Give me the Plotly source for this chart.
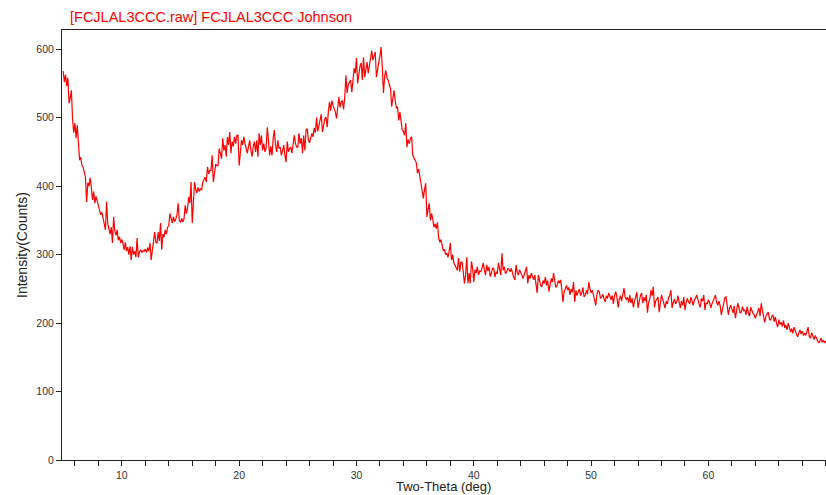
import numpy as np
import plotly.graph_objects as go

# Two-theta start / step of the scan (deg)
theta_start = 5.0
theta_step = 0.1

# Intensity (counts), one row per degree (x.0 .. x.9)
counts_05 = [568, 552, 563, 546, 558, 521, 528, 540, 498, 478]
counts_06 = [492, 470, 489, 452, 438, 442, 430, 428, 420, 413]
counts_07 = [377, 405, 400, 412, 398, 380, 392, 375, 385, 377]
counts_08 = [370, 365, 358, 362, 355, 345, 336, 377, 345, 336]
counts_09 = [330, 340, 317, 355, 335, 328, 336, 321, 326, 317]
counts_10 = [322, 316, 307, 318, 305, 311, 300, 312, 292, 311]
counts_11 = [300, 305, 296, 324, 296, 304, 307, 303, 306, 305]
counts_12 = [308, 303, 310, 305, 317, 292, 305, 312, 333, 318]
counts_13 = [317, 333, 320, 346, 307, 330, 326, 336, 330, 340]
counts_14 = [342, 360, 350, 346, 355, 348, 352, 358, 375, 350]
counts_15 = [347, 353, 348, 352, 372, 360, 368, 384, 375, 406]
counts_16 = [346, 380, 406, 395, 390, 398, 392, 396, 394, 406]
counts_17 = [410, 413, 406, 428, 418, 423, 423, 445, 406, 425]
counts_18 = [432, 430, 430, 455, 445, 440, 470, 452, 460, 443]
counts_19 = [472, 460, 479, 448, 465, 458, 472, 462, 474, 474]
counts_20 = [430, 455, 467, 460, 472, 462, 455, 448, 458, 467]
counts_21 = [452, 443, 458, 465, 450, 467, 443, 477, 460, 474]
counts_22 = [452, 462, 450, 456, 486, 468, 445, 458, 445, 470]
counts_23 = [482, 460, 450, 467, 455, 457, 445, 452, 460, 445]
counts_24 = [435, 465, 450, 455, 457, 448, 460, 474, 462, 457]
counts_25 = [457, 477, 462, 470, 448, 474, 452, 482, 484, 468]
counts_26 = [463, 470, 477, 472, 485, 478, 500, 480, 490, 495]
counts_27 = [505, 479, 492, 498, 501, 486, 508, 523, 510, 525]
counts_28 = [518, 514, 508, 499, 520, 530, 515, 523, 525, 512]
counts_29 = [530, 562, 536, 548, 552, 555, 537, 560, 572, 565]
counts_30 = [587, 550, 568, 575, 580, 555, 588, 559, 570, 581]
counts_31 = [565, 578, 585, 598, 584, 590, 596, 559, 575, 581]
counts_32 = [590, 603, 574, 536, 560, 569, 558, 555, 548, 543]
counts_33 = [516, 530, 540, 525, 514, 516, 496, 508, 495, 482]
counts_34 = [480, 474, 492, 457, 468, 462, 470, 472, 445, 440]
counts_35 = [438, 434, 419, 425, 413, 405, 394, 382, 395, 404]
counts_36 = [355, 368, 375, 350, 360, 352, 340, 345, 338, 347]
counts_37 = [325, 318, 322, 314, 306, 307, 300, 302, 296, 305]
counts_38 = [317, 292, 300, 288, 285, 282, 277, 295, 275, 289]
counts_39 = [289, 275, 258, 270, 296, 258, 273, 258, 290, 280]
counts_40 = [260, 278, 273, 282, 270, 276, 275, 280, 288, 278]
counts_41 = [270, 285, 276, 282, 268, 273, 280, 280, 267, 275]
counts_42 = [272, 288, 280, 270, 302, 277, 282, 272, 275, 280]
counts_43 = [278, 275, 280, 272, 267, 263, 285, 274, 270, 278]
counts_44 = [275, 270, 265, 272, 278, 282, 258, 270, 265, 273]
counts_45 = [268, 263, 270, 258, 244, 270, 262, 255, 253, 262]
counts_46 = [258, 267, 255, 262, 246, 258, 265, 260, 273, 262]
counts_47 = [252, 255, 262, 258, 263, 250, 231, 245, 252, 255]
counts_48 = [248, 252, 241, 250, 245, 260, 231, 248, 240, 246]
counts_49 = [250, 240, 244, 252, 238, 241, 248, 242, 260, 250]
counts_50 = [244, 248, 240, 235, 226, 242, 248, 245, 236, 238]
counts_51 = [242, 235, 231, 240, 236, 244, 238, 234, 240, 228]
counts_52 = [240, 246, 238, 223, 235, 240, 232, 245, 251, 238]
counts_53 = [234, 238, 230, 241, 229, 236, 223, 232, 240, 245]
counts_54 = [222, 235, 240, 244, 229, 238, 232, 241, 215, 230]
counts_55 = [235, 248, 240, 253, 223, 232, 236, 238, 216, 230]
counts_56 = [241, 235, 230, 222, 232, 228, 237, 240, 248, 222]
counts_57 = [230, 235, 228, 231, 240, 228, 222, 232, 226, 238]
counts_58 = [219, 230, 236, 231, 228, 238, 232, 226, 234, 236]
counts_59 = [241, 232, 228, 223, 236, 232, 241, 219, 230, 228]
counts_60 = [234, 230, 222, 228, 232, 236, 241, 230, 226, 232]
counts_61 = [225, 212, 222, 230, 237, 238, 226, 212, 222, 226]
counts_62 = [220, 215, 225, 207, 218, 229, 222, 215, 216, 224]
counts_63 = [218, 219, 212, 224, 215, 210, 223, 218, 214, 212]
counts_64 = [207, 212, 216, 222, 210, 229, 218, 206, 201, 210]
counts_65 = [214, 216, 206, 204, 210, 212, 202, 209, 200, 194]
counts_66 = [205, 198, 201, 195, 204, 193, 197, 190, 200, 194]
counts_67 = [187, 192, 185, 194, 188, 184, 180, 186, 190, 184]
counts_68 = [188, 182, 185, 182, 190, 194, 180, 178, 186, 180]
counts_69 = [176, 182, 178, 175, 171, 174, 178, 172, 175, 171]
counts_70 = [174]

rows = [counts_05, counts_06, counts_07, counts_08, counts_09, counts_10,
        counts_11, counts_12, counts_13, counts_14, counts_15, counts_16,
        counts_17, counts_18, counts_19, counts_20, counts_21, counts_22,
        counts_23, counts_24, counts_25, counts_26, counts_27, counts_28,
        counts_29, counts_30, counts_31, counts_32, counts_33, counts_34,
        counts_35, counts_36, counts_37, counts_38, counts_39, counts_40,
        counts_41, counts_42, counts_43, counts_44, counts_45, counts_46,
        counts_47, counts_48, counts_49, counts_50, counts_51, counts_52,
        counts_53, counts_54, counts_55, counts_56, counts_57, counts_58,
        counts_59, counts_60, counts_61, counts_62, counts_63, counts_64,
        counts_65, counts_66, counts_67, counts_68, counts_69, counts_70]

counts = [v for r in rows for v in r]
two_theta = [round(theta_start + i * theta_step, 3) for i in range(len(counts))]

title_text = "[FCJLAL3CCC.raw] FCJLAL3CCC Johnson"
x_title = "Two-Theta (deg)"
y_title = "Intensity(Counts)"

FONT = "Liberation Sans, Arial, sans-serif"

# plot-area geometry in pixels (for placing annotations)
PL, PR, PT, PB = 62, 826, 30, 460
PW, PH = PR - PL, PB - PT

fig = go.Figure()
fig.add_trace(go.Scatter(
    x=two_theta, y=counts, mode="lines",
    line=dict(color="#ff0000", width=1.2),
    hoverinfo="x+y", showlegend=False,
))

axis_common = dict(
    showgrid=False, zeroline=False, showline=True, linecolor="#222222",
    linewidth=1, mirror=True, ticks="outside", ticklen=5, tickwidth=1,
    tickcolor="#222222", tickfont=dict(family=FONT, size=10.5, color="#333333"),
)

fig.update_layout(
    width=826, height=495,
    margin=dict(l=PL, r=826 - PR, t=PT, b=495 - PB),
    plot_bgcolor="white", paper_bgcolor="white",
    xaxis=dict(range=[4.9, 70.02], tick0=0, dtick=10,
               minor=dict(dtick=2, ticks="outside", ticklen=5, tickcolor="#222222"),
               **axis_common),
    yaxis=dict(range=[0, 628], tick0=0, dtick=100, **axis_common),
    annotations=[
        dict(text=title_text, x=(68 - PL) / PW, y=1 + (PT - 17) / PH, xref="paper", yref="paper",
             xanchor="left", yanchor="middle", showarrow=False,
             font=dict(family=FONT, size=14.5, color="#ff0000")),
        dict(text=x_title, x=(443 - PL) / PW, y=-(496 - PB) / PH, xref="paper", yref="paper",
             xanchor="center", yanchor="bottom", showarrow=False,
             font=dict(family=FONT, size=13, color="#222222")),
        dict(text=y_title, x=-(PL - 22) / PW, y=(PB - 245) / PH, xref="paper", yref="paper",
             xanchor="center", yanchor="middle", showarrow=False, textangle=-90,
             font=dict(family=FONT, size=14, color="#222222")),
    ],
)

fig.write_html("out.html")
